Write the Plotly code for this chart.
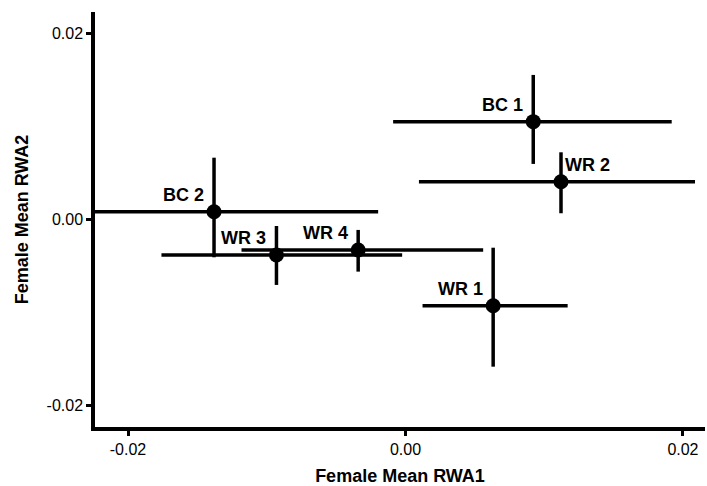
import plotly.graph_objects as go

# ---- data ----
labels = ["BC 1", "BC 2", "WR 1", "WR 2", "WR 3", "WR 4"]
rwa1 = [0.00921, -0.01380, 0.00632, 0.01121, -0.00930, -0.00341]
rwa2 = [0.01053, 0.00086, -0.00924, 0.00408, -0.00379, -0.00325]
rwa1_err_plus = [0.00998, 0.01183, 0.00537, 0.00966, 0.00906, 0.00901]
rwa1_err_minus = [0.01010, 0.01183, 0.00509, 0.01024, 0.00829, 0.00841]
rwa2_err_plus = [0.00502, 0.00580, 0.00623, 0.00316, 0.00311, 0.00215]
rwa2_err_minus = [0.00454, 0.00490, 0.00655, 0.00339, 0.00322, 0.00233]

tick_vals = [-0.02, 0.0, 0.02]
tick_text = ["-0.02", "0.00", "0.02"]

x_title = "Female Mean RWA1"
y_title = "Female Mean RWA2"

# label placement (style): which side of the point the label sits
label_side = ["left", "left", "left", "right", "left", "left"]

FONT = "Arial, Liberation Sans, Helvetica, sans-serif"

fig = go.Figure()
fig.add_trace(go.Scatter(
    x=rwa1, y=rwa2, mode="markers",
    marker=dict(color="black", size=15),
    error_x=dict(type="data", symmetric=False, array=rwa1_err_plus,
                 arrayminus=rwa1_err_minus, color="black", thickness=3.5, width=0),
    error_y=dict(type="data", symmetric=False, array=rwa2_err_plus,
                 arrayminus=rwa2_err_minus, color="black", thickness=3.5, width=0),
    hoverinfo="skip", showlegend=False,
))

for lab, xv, yv, side in zip(labels, rwa1, rwa2, label_side):
    fig.add_annotation(
        x=xv, y=yv, xref="x", yref="y", text="<b>%s</b>" % lab,
        showarrow=False,
        xanchor="right" if side == "left" else "left",
        yanchor="bottom",
        xshift=-8 if side == "left" else 2,
        yshift=5,
        font=dict(family=FONT, size=18, color="black"),
    )

axis_common = dict(
    showgrid=False, zeroline=False, showline=True, linecolor="black",
    linewidth=3.5, ticks="outside", ticklen=5, tickwidth=3, tickcolor="black",
    tickvals=tick_vals, ticktext=tick_text, automargin=False,
    tickfont=dict(family=FONT, size=16, color="black"),
)

fig.update_layout(
    width=707, height=486,
    margin=dict(l=95, r=2, t=12, b=59),
    paper_bgcolor="white", plot_bgcolor="white",
    xaxis=dict(range=[-0.02238, 0.02159], **axis_common,
               title=dict(text="<b>%s</b>" % x_title, standoff=17,
                          font=dict(family=FONT, size=18, color="black"))),
    yaxis=dict(range=[-0.02227, 0.02231], **axis_common,
               title=dict(text="<b>%s</b>" % y_title, standoff=14,
                          font=dict(family=FONT, size=18, color="black"))),
)

fig.write_html(
    "out.html",
    config={"displayModeBar": False},
    post_script="document.body.style.margin='0px';document.body.style.overflow='hidden';",
)
